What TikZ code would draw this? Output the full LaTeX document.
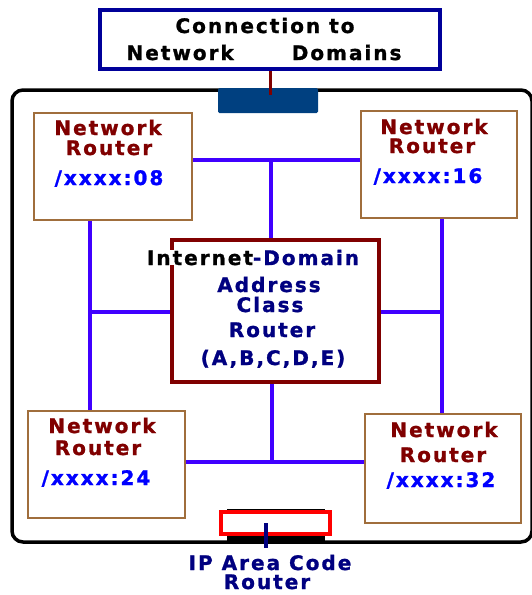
\documentclass[tikz,border=0pt]{standalone}
\usepackage{fontspec}
\setmainfont{Liberation Sans}
\newfontfamily\lblfont[LetterSpace=10,FakeBold=1.2]{DejaVu Sans Bold}
\definecolor{navy}{RGB}{0,0,128}
\definecolor{dkred}{RGB}{128,0,0}
\definecolor{addrblue}{RGB}{0,0,255}
\definecolor{connblue}{RGB}{64,0,255}
\definecolor{brownb}{RGB}{160,110,60}
\definecolor{portblue}{RGB}{0,64,128}
\definecolor{topnavy}{RGB}{0,0,153}
\begin{document}
\begin{tikzpicture}[x=1pt,y=-1pt,
  lbl/.style={font=\lblfont\fontsize{20}{20}\selectfont, inner sep=0pt, anchor=base},
  router/.style={draw=brownb, line width=2pt, fill=white, inner sep=0pt},
  conn/.style={draw=connblue, line width=3.2pt},
]
\useasboundingbox (0,0) rectangle (531,595);
\fill[white] (0,0) rectangle (531,595);
% outer frame
\draw[line width=3.5pt, rounded corners=11pt] (12,90) rectangle (532,542);
% junction coordinates
\coordinate (J1) at (271,160);
\coordinate (J2) at (90,312);
\coordinate (J3) at (442,312);
\coordinate (J4) at (272,462);
\coordinate (K) at (270,95);
% boxes
\node[draw=topnavy, line width=3.5pt, fill=white, minimum width=340pt, minimum height=59pt, inner sep=0pt] (TB) at (270,39.5) {};
\node[fill=portblue, minimum width=100pt, minimum height=25pt, inner sep=0pt, rounded corners=1.5pt] (PORT) at (268,100.5) {};
\node[router, minimum width=158pt, minimum height=107pt] (TL) at (113,166.5) {};
\node[router, minimum width=156pt, minimum height=107pt] (TR) at (439,164.5) {};
\node[router, minimum width=157pt, minimum height=107pt] (BL) at (106.5,464.5) {};
\node[router, minimum width=156pt, minimum height=109pt] (BR) at (443,468.5) {};
\node[draw=dkred, line width=3.2pt, fill=white, minimum width=207pt, minimum height=142pt, inner sep=0pt] (CB) at (275.5,311) {};
% IP area code router
\fill[black] (227,509) rectangle (325,542);
\node[draw=red, line width=4pt, fill=white, minimum width=109pt, minimum height=22pt, inner sep=0pt] (IPR) at (275.5,523) {};
\coordinate (L) at (266,548);
% connectors
\draw[conn] (TL.east |- J1) -- (TR.west |- J1);
\draw[conn] (J1) -- (CB.north -| J1);
\draw[conn] (TL.south -| J2) -- (BL.north -| J2);
\draw[conn] (J2) -- (CB.west |- J2);
\draw[conn] (TR.south -| J3) -- (BR.north -| J3);
\draw[conn] (CB.east |- J3) -- (J3);
\draw[conn] (CB.south -| J4) -- (J4);
\draw[conn] (BL.east |- J4) -- (BR.west |- J4);
\draw[dkred, line width=3pt] (TB.south -| K) -- (K);
\draw[navy, line width=3.5pt] (IPR.center -| L) -- (L);
% texts
\node[lbl] (t1) at (265,33) {Connection to};
\node[lbl] (t2) at (264,60) {Network\hspace{58pt}Domains};
\node[lbl, text=dkred] (tl1) at (108,135) {Network};
\node[lbl, text=dkred] (tl2) at (109,155) {Router};
\node[lbl, text=addrblue] (tl3) at (109,185) {/xxxx:08};
\node[lbl, text=dkred] (tr1) at (434,134) {Network};
\node[lbl, text=dkred] (tr2) at (432,153) {Router};
\node[lbl, text=addrblue] (tr3) at (428,183) {/xxxx:16};
\node[lbl, text=dkred] (bl1) at (102,433) {Network};
\node[lbl, text=dkred] (bl2) at (98,455) {Router};
\node[lbl, text=addrblue] (bl3) at (96,485) {/xxxx:24};
\node[lbl, text=dkred] (br1) at (444,437) {Network};
\node[lbl, text=dkred] (br2) at (443,462) {Router};
\node[lbl, text=addrblue] (br3) at (441,487) {/xxxx:32};
\node[lbl, fill=white] (c1) at (253,265) {Internet\textcolor{navy}{-Domain}};
\node[lbl, text=navy] (c2) at (269,292) {Address};
\node[lbl, text=navy] (c3) at (270,312) {Class};
\node[lbl, text=navy] (c4) at (272,337) {Router};
\node[lbl, text=navy] (c5) at (273,365) {(A,B,C,D,E)};
\node[lbl, text=navy] (b1) at (270,570) {IP Area Code};
\node[lbl, text=navy] (b2) at (267,589) {Router};
\end{tikzpicture}
\end{document}
